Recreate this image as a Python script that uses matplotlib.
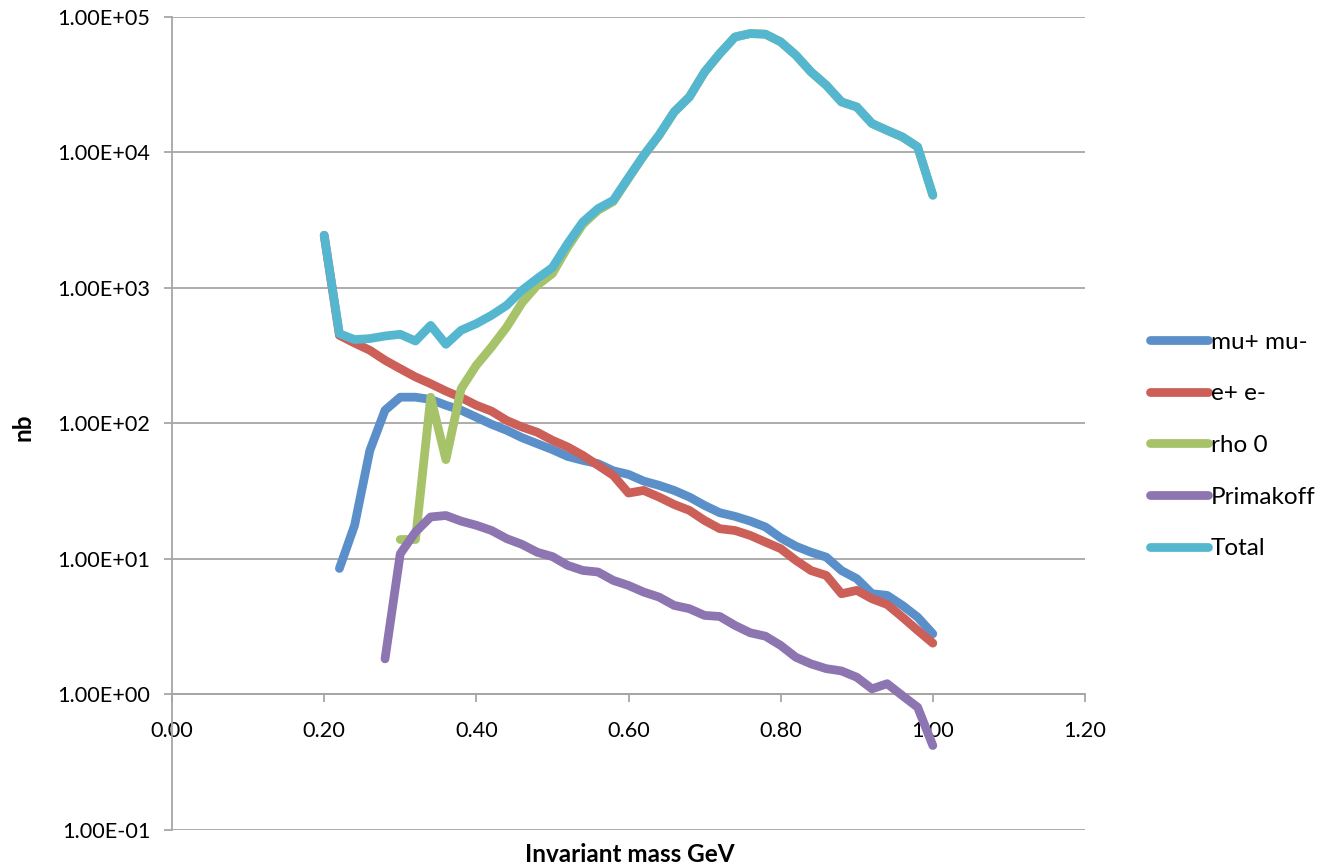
import numpy as np
import matplotlib
matplotlib.use("Agg")
import matplotlib.pyplot as plt
from matplotlib.ticker import FixedLocator, FuncFormatter, NullLocator

plt.rcParams['font.family'] = ['Lato', 'DejaVu Sans']

# ---------------- data ----------------
mass = [0.20, 0.22, 0.24, 0.26, 0.28, 0.30, 0.32, 0.34, 0.36, 0.38,
        0.40, 0.42, 0.44, 0.46, 0.48, 0.50, 0.52, 0.54, 0.56, 0.58,
        0.60, 0.62, 0.64, 0.66, 0.68, 0.70, 0.72, 0.74, 0.76, 0.78,
        0.80, 0.82, 0.84, 0.86, 0.88, 0.90, 0.92, 0.94, 0.96, 0.98, 1.00]

mumu = [None, 8.5, 17.7, 63, 125, 156, 156, 150, 136, 125,
        111, 98.4, 88.8, 78.4, 70.8, 64, 57, 53.3, 50.4, 44.7,
        42, 37.5, 34.9, 32, 28.6, 24.8, 21.9, 20.6, 19, 17.2,
        14.3, 12.4, 11.2, 10.3, 8.2, 7.15, 5.54, 5.38, 4.54, 3.72, 2.80]

ee = [2440, 446, 391, 346, 292, 253, 220, 196, 173, 155,
      136, 123, 105, 94, 86, 75, 67, 58, 49, 41.3,
      30.6, 32, 28.6, 25.2, 22.8, 19.2, 16.7, 16.2, 14.9, 13.3,
      11.9, 9.75, 8.2, 7.55, 5.53, 5.86, 5.08, 4.61, 3.72, 2.97, 2.39]

rho0 = [None, None, None, None, None, 13.9, 13.9, 156, 54, 180,
        268, 366, 514, 775, 1043, 1274, 1990, 2940, 3730, 4330,
        6420, 9425, 13280, 19790, 25540, 39050, 53460, 70860, 75060, 74270,
        65170, 51975, 39080, 31180, 23485, 21585, 16290, 14490, 12960, 10943, 4815]

primakoff = [None, None, None, None, 1.83, 10.9, 15.8, 20.4, 20.9, 19,
             17.7, 16.2, 14.1, 12.8, 11.2, 10.4, 8.96, 8.22, 8.0, 6.94,
             6.37, 5.69, 5.23, 4.54, 4.29, 3.83, 3.76, 3.23, 2.85, 2.69,
             2.30, 1.88, 1.68, 1.55, 1.49, 1.34, 1.10, 1.20, 0.98, 0.805, 0.42]

total = [2440, 459, 415, 422, 441, 454, 405, 528, 383, 486,
         544, 627, 743, 959, 1170, 1410, 2120, 3060, 3840, 4420,
         6500, 9500, 13350, 19850, 25600, 39100, 53500, 70900, 75100, 74300,
         65200, 52000, 39100, 31200, 23500, 21600, 16300, 14500, 12970, 10950, 4820]

series_names = ['mu+ mu-', 'e+ e-', 'rho 0', 'Primakoff', 'Total']
series_colors = ['#5B8FC9', '#CC5F57', '#A7C369', '#8C75B0', '#55B7CF']

y_ticks = [1e-1, 1e0, 1e1, 1e2, 1e3, 1e4, 1e5]
x_ticks = [0.0, 0.2, 0.4, 0.6, 0.8, 1.0, 1.2]

# ---------------- figure ----------------
W, H = 1324, 868
fig = plt.figure(figsize=(W / 100, H / 100), dpi=100)
L, R, T, B = 172, 1085, 16.7, 830
ax = fig.add_axes([L / W, 1 - B / H, (R - L) / W, (B - T) / H])

grey = '#A6A6A6'
x = np.array(mass, dtype=float)
handles = []
for vals, name, col in zip([mumu, ee, rho0, primakoff, total], series_names, series_colors):
    y = np.array([np.nan if v is None else v for v in vals], dtype=float)
    ln, = ax.plot(x, y, color=col, lw=6.3, solid_capstyle='round',
                  solid_joinstyle='round', label=name, zorder=3)
    handles.append(ln)

ax.set_yscale('log')
ax.set_ylim(1e-1, 1e5)
ax.set_xlim(0, 1.2)
ax.yaxis.set_major_locator(FixedLocator(y_ticks))
ax.yaxis.set_minor_locator(NullLocator())
ax.yaxis.set_major_formatter(FuncFormatter(lambda v, p: f"{v:.2E}"))
ax.xaxis.set_major_locator(FixedLocator(x_ticks))
ax.xaxis.set_major_formatter(FuncFormatter(lambda v, p: f"{v:.2f}"))

ax.yaxis.grid(True, color=grey, lw=1.3, zorder=1)
ax.xaxis.grid(False)
ax.set_axisbelow(True)

for s in ['top', 'right']:
    ax.spines[s].set_visible(False)
ax.spines['left'].set_color(grey)
ax.spines['left'].set_linewidth(1.3)
ax.spines['bottom'].set_color(grey)
ax.spines['bottom'].set_linewidth(1.3)
ax.spines['bottom'].set_position(('data', 1))

ax.tick_params(axis='both', which='major', direction='out', length=5.8,
               width=1.3, color=grey, labelsize=15.6, labelcolor='black')
ax.tick_params(axis='y', pad=10)
ax.tick_params(axis='x', pad=13)

fig.text(630 / W, 1 - 862 / H, 'Invariant mass GeV', ha='center', va='baseline',
         fontsize=17.5, fontweight='bold')
fig.text(23 / W, 1 - 427 / H, 'nb', ha='center', va='center', rotation=90,
         fontsize=17.5, fontweight='bold')

fig.legend(handles, series_names, loc='center left',
           bbox_to_anchor=(1150 / W, 1 - 445.5 / H), frameon=False,
           fontsize=17.5, handlelength=2.4, handletextpad=0.1,
           labelspacing=1.26, borderpad=0, borderaxespad=0)

fig.savefig('out.png', dpi=100)
